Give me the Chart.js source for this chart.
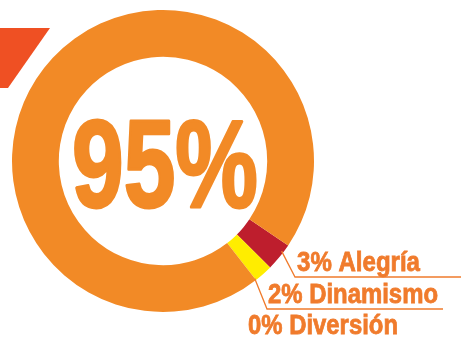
<!DOCTYPE html>
<html>
<head>
<meta charset="utf-8">
<script src="https://cdn.jsdelivr.net/npm/chart.js@4/dist/chart.umd.min.js"></script>
<style>
  html, body { margin: 0; padding: 0; background: #fff; }
  #wrap { width: 461px; height: 339px; position: relative; }
</style>
</head>
<body>
<div id="wrap"><canvas id="grafico" width="461" height="339"></canvas></div>
<script>
// dati del grafico
const categorie = ['Alegría', 'Dinamismo', 'Diversión', 'Otro'];
const valori = [3, 2, 0, 95];
const colori = ['#BE1E2D', '#FFED00', '#F7941D', '#F28A26'];
const titoloCentro = '95%';

const ARANCIO = '#F28A26';
const TESTO = '#F07B2C';
const FONT = '"Liberation Sans", Arial, sans-serif';

// decorazione in alto a sinistra
const decoro = {
  id: 'decoro',
  beforeDraw(chart) {
    const ctx = chart.ctx;
    ctx.save();
    ctx.fillStyle = '#EF5023';
    ctx.beginPath();
    ctx.moveTo(0, 28);
    ctx.lineTo(50, 28);
    ctx.lineTo(8, 88);
    ctx.lineTo(0, 88);
    ctx.closePath();
    ctx.fill();
    ctx.restore();
  }
};

// testo centrale
const centro = {
  id: 'centro',
  afterDraw(chart) {
    const ctx = chart.ctx;
    const arc = chart.getDatasetMeta(0).data[0];
    ctx.save();
    ctx.fillStyle = ARANCIO;
    ctx.strokeStyle = ARANCIO;
    ctx.lineJoin = 'round';
    ctx.font = 'bold 124px ' + FONT;
    ctx.textAlign = 'center';
    ctx.textBaseline = 'alphabetic';
    let w = ctx.measureText(titoloCentro).width;
    let sx = 186 / w;
    ctx.translate(arc.x + 2, 207);
    ctx.scale(sx, 1);
    ctx.lineWidth = 3;
    ctx.fillText(titoloCentro, 0, 0);
    ctx.strokeText(titoloCentro, 0, 0);
    ctx.restore();
  }
};

// etichette con linee guida
const etichette = {
  id: 'etichette',
  afterDraw(chart) {
    const ctx = chart.ctx;
    const meta = chart.getDatasetMeta(0);
    // posizione testo: [x, baseline, larghezza, sottolineatura(x inizio, x fine) o null]
    const pos = [
      [297, 271, 123, [295, 461]],
      [268, 303, 170, [267, 443]],
      [248, 334, 150, null]
    ];
    ctx.save();
    ctx.strokeStyle = TESTO;
    ctx.fillStyle = TESTO;
    for (let i = 0; i < 3; i++) {
      const p = pos[i];
      const testo = valori[i] + '% ' + categorie[i];
      if (p[3]) {
        const a = meta.data[i];
        const ang = i == 0 ? a.startAngle + (a.endAngle - a.startAngle) * 0.3 : a.endAngle;
        const r = a.outerRadius - 2;
        const x0 = a.x + Math.cos(ang) * r;
        const y0 = a.y + Math.sin(ang) * r;
        const yl = p[1] + 6;
        ctx.lineWidth = 1.3;
        ctx.beginPath();
        ctx.moveTo(x0, y0);
        ctx.lineTo(p[3][0], yl);
        ctx.lineTo(p[3][1], yl);
        ctx.stroke();
      }
      ctx.font = 'bold 28px ' + FONT;
      ctx.textAlign = 'left';
      ctx.textBaseline = 'alphabetic';
      const w = ctx.measureText(testo).width;
      ctx.save();
      ctx.translate(p[0], p[1]);
      ctx.scale(p[2] / w, 1);
      ctx.lineWidth = 0.8;
      ctx.fillText(testo, 0, 0);
      ctx.strokeText(testo, 0, 0);
      ctx.restore();
    }
    ctx.restore();
  }
};

window.onload = () => {
  new Chart(document.getElementById('grafico'), {
    type: 'doughnut',
    data: {
      labels: categorie,
      datasets: [{
        data: valori,
        backgroundColor: colori,
        borderWidth: 0
      }]
    },
    options: {
      responsive: false,
      animation: false,
      rotation: 124,
      cutout: '69%',
      layout: { padding: { left: 12, right: 147, top: 10, bottom: 27 } },
      plugins: {
        legend: { display: false },
        tooltip: { enabled: false }
      }
    },
    plugins: [decoro, centro, etichette]
  });
};
</script>
</body>
</html>
